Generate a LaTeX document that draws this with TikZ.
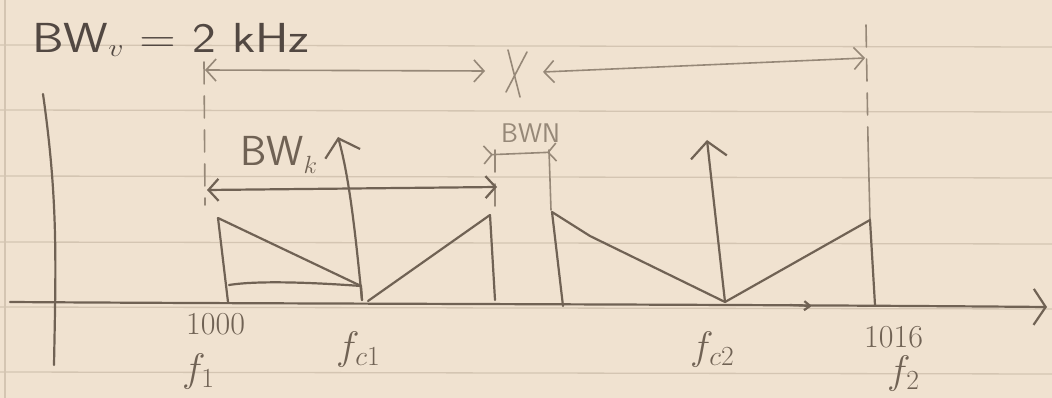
\documentclass[tikz,border=0pt]{standalone}
\usepackage{graphicx}
\usetikzlibrary{arrows.meta}
\definecolor{paper}{RGB}{240,226,208}
\definecolor{rulecol}{RGB}{212,197,178}
\definecolor{pencil}{RGB}{112,98,84}
\definecolor{ink}{RGB}{82,72,66}
\definecolor{faint}{RGB}{150,136,120}
\begin{document}
\begin{tikzpicture}[x=1pt,y=-1pt,
  pen/.style={draw=pencil, line width=2.2pt, line cap=round, line join=round},
  lightpen/.style={draw=faint, line width=1.6pt, line cap=round, line join=round},
  dashpen/.style={lightpen, dash pattern=on 22pt off 12pt},
  barb/.tip={Straight Barb[length=10pt, width=22pt]},
  bigbarb/.tip={Straight Barb[length=16pt, width=36pt]},
  lbl/.style={text=pencil, inner sep=0pt, font=\fontsize{24}{26}\selectfont}]
\fill[paper] (0,0) rectangle (1052,398);
\useasboundingbox (0,0) rectangle (1052,398);
% ruled paper
\foreach \y in {45,110,176,242,307,372} \draw[rulecol, line width=1.3pt] (0,\y) -- (1052,\y+2);
\draw[rulecol, line width=1.3pt] (5,0) -- (5,398);

% axes
\coordinate (o) at (10,302);
\coordinate (xe) at (1047,307);
\coordinate (yt) at (43,94);
\coordinate (yb) at (54,365);
\draw[pen, -{Straight Barb[length=12pt, width=36pt]}] (o) .. controls (300,304) and (700,304) .. (xe);
\draw[pen, -{Straight Barb[length=6pt, width=9pt]}] (790,305) -- (812,306);
\draw[pen] (yt) .. controls (58,200) and (56,260) .. (yb);

% guide lines
\coordinate (g1t) at (204,62);  \coordinate (g1b) at (205,205);
\coordinate (g2t) at (495,150); \coordinate (g2b) at (495,214);
\coordinate (g3t) at (549,150); \coordinate (g3b) at (551,210);
\coordinate (g4t) at (866,25);  \coordinate (g4m) at (868,140);
\draw[dashpen] (g1t) -- (g1b);
\draw[dashpen] (g2t) -- (g2b);
\draw[lightpen] (g3t) -- (g3b);
\draw[dashpen] (g4t) -- (g4m);
\draw[lightpen] (g4m) -- (870,220);

% top dimension lines
\coordinate (d1l) at (205,70); \coordinate (d1r) at (485,71);
\coordinate (d2l) at (543,72); \coordinate (d2r) at (865,58);
\draw[lightpen, {barb}-{barb}] (d1l) -- (d1r);
\draw[lightpen, {barb}-{barb}] (d2l) -- (d2r);
\coordinate (xc) at (515,72);
\draw[lightpen] (508,50) -- (520,97);
\draw[lightpen] (527,52) -- (506,92);

% BW_k arrow
\coordinate (bkl) at (207,190); \coordinate (bkr) at (497,187);
\draw[pen, {barb}-{barb}] (bkl) -- (bkr);
% BW_N arrow
\coordinate (bnl) at (483,155); \coordinate (bnr) at (557,152);
\draw[lightpen, {Straight Barb[length=8pt, width=18pt, reversed]}-{Straight Barb[length=8pt, width=18pt, reversed]}] (bnl) -- (bnr);

% spectrum 1
\coordinate (a1) at (218,218); \coordinate (a0) at (228,302);
\coordinate (c1) at (362,300); \coordinate (c1t) at (361,286);
\coordinate (b1) at (490,215); \coordinate (b0) at (495,300);
\draw[pen] (a0) -- (a1) -- (c1t) -- (c1);
\draw[pen] (229,285) .. controls (260,280) and (320,283) .. (c1t);
\draw[pen] (368,301) -- (b1) -- (b0);
% carrier 1
\coordinate (t1) at (338,137);
\draw[pen, -{bigbarb}] (c1) .. controls (356,240) and (350,180) .. (t1);

% spectrum 2
\coordinate (a2) at (552,212); \coordinate (a20) at (563,306);
\coordinate (c2) at (725,302);
\coordinate (b2) at (870,220); \coordinate (b20) at (875,305);
\draw[pen] (a20) -- (a2) -- (590,236) -- (c2) -- (b2) -- (b20);
% carrier 2
\coordinate (t2) at (707,140);
\draw[pen, -{bigbarb}] (c2) -- (t2);

% labels
\node[lbl, text=ink, anchor=west, font=\sffamily\fontsize{42}{44}\selectfont] (bwv) at (32,40) {\scalebox{1.2}[1]{BW$_v$ = 2 kHz}};
\node[lbl, anchor=west, font=\sffamily\fontsize{42}{44}\selectfont] (bwk) at (240,155) {BW$_k$};
\node[lbl, text=faint, anchor=west, font=\sffamily\fontsize{27}{29}\selectfont] (bwn) at (501,133) {BWN};
\node[lbl, anchor=west, font=\fontsize{32}{34}\selectfont] (n1000) at (186,324) {1000};
\node[lbl, anchor=west, font=\fontsize{32}{34}\selectfont] (n1016) at (864,337) {1016};
\node[lbl, anchor=west] (f1) at (182,372) {\scalebox{1.6}{$f_1$}};
\node[lbl, anchor=west] (fc1) at (336,350) {\scalebox{1.6}{$f_{c1}$}};
\node[lbl, anchor=west] (fc2) at (690,350) {\scalebox{1.6}{$f_{c2}$}};
\node[lbl, anchor=west] (f2) at (887,374) {\scalebox{1.6}{$f_2$}};
\end{tikzpicture}
\end{document}
